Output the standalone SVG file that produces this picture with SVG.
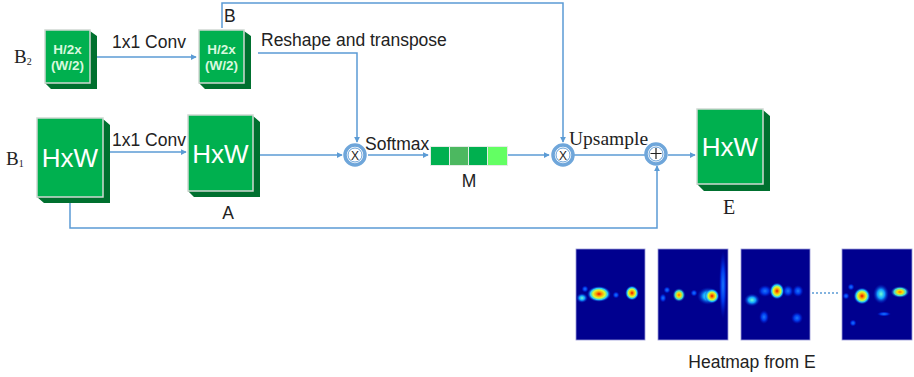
<svg xmlns="http://www.w3.org/2000/svg" width="914" height="377" viewBox="0 0 914 377">
  <style>
    .face { fill: #00b04f; stroke: #cfd8d2; stroke-width: 1.5; }
    .side { fill: #00702f; }
    .edge { fill: none; stroke: #5b9bd5; stroke-width: 1.5; }
    .ring { fill: #ffffff; stroke: #6fa6da; stroke-width: 3.5; }
    .ringIn { fill: none; stroke: #3f86cc; stroke-width: 0.8; }
    .lbl { font-family: "Liberation Sans", Arial, sans-serif; font-size: 17.5px; fill: #222; }
    .ser { font-family: "Liberation Serif", "Times New Roman", serif; fill: #222; }
    .big { font-family: "Liberation Sans", Arial, sans-serif; font-size: 26px; fill: #ffffff; text-anchor: middle; }
    .small { font-family: "Liberation Sans", Arial, sans-serif; font-size: 13.5px; font-weight: bold; fill: #d8f8de; text-anchor: middle; }
    .op { font-family: "Liberation Sans", Arial, sans-serif; font-size: 12px; fill: #222; text-anchor: middle; }
    .hm { fill: #00008f; stroke: #9a9ad6; stroke-width: 0.8; }
  </style>
  <defs>
    <marker id="arr" viewBox="0 0 8 8" refX="7" refY="4" markerWidth="6" markerHeight="6" orient="auto" markerUnits="userSpaceOnUse">
      <path d="M0,0 L8,4 L0,8 z" fill="#5b9bd5"/>
    </marker>
    <radialGradient id="hot">
      <stop offset="0" stop-color="#e01000"/>
      <stop offset="0.25" stop-color="#ff9a00"/>
      <stop offset="0.5" stop-color="#d8ff30"/>
      <stop offset="0.72" stop-color="#20c8ff"/>
      <stop offset="1" stop-color="#0010c0" stop-opacity="0"/>
    </radialGradient>
    <radialGradient id="warm">
      <stop offset="0" stop-color="#ff6a00"/>
      <stop offset="0.3" stop-color="#ffe000"/>
      <stop offset="0.62" stop-color="#40e0d0"/>
      <stop offset="1" stop-color="#0010c0" stop-opacity="0"/>
    </radialGradient>
    <radialGradient id="cool">
      <stop offset="0" stop-color="#70ffd0"/>
      <stop offset="0.45" stop-color="#10a0ff"/>
      <stop offset="1" stop-color="#0010c0" stop-opacity="0"/>
    </radialGradient>
    <radialGradient id="faint">
      <stop offset="0" stop-color="#1a78ff"/>
      <stop offset="0.5" stop-color="#0038e8"/>
      <stop offset="1" stop-color="#0010c0" stop-opacity="0"/>
    </radialGradient>
  </defs>

  <!-- connectors -->
  <g id="connectors">
    <path class="edge" d="M97,57 H196" marker-end="url(#arr)"/>
    <path class="edge" d="M110,152 H186" marker-end="url(#arr)"/>
    <path class="edge" d="M258,53 H357 V142" marker-end="url(#arr)"/>
    <path class="edge" d="M222,28 V3 H563 V142" marker-end="url(#arr)"/>
    <path class="edge" d="M258,155 H342" marker-end="url(#arr)"/>
    <path class="edge" d="M368,155 H428" marker-end="url(#arr)"/>
    <path class="edge" d="M508,155 H549" marker-end="url(#arr)"/>
    <path class="edge" d="M574,155 H645"/>
    <path class="edge" d="M668,155 H695" marker-end="url(#arr)"/>
    <path class="edge" d="M70,203 V228 H657 V166" marker-end="url(#arr)"/>
    <line x1="812" y1="293" x2="840" y2="293" stroke="#5b9bd5" stroke-width="1.5" stroke-dasharray="2,2"/>
  </g>

  <!-- edge labels -->
  <g id="labels">
    <text class="lbl" x="112" y="48">1x1 Conv</text>
    <text class="lbl" x="112" y="146">1x1 Conv</text>
    <text class="lbl" x="261" y="46">Reshape and transpose</text>
    <text class="lbl" x="224" y="22" font-size="16">B</text>
    <text class="lbl" x="365" y="150">Softmax</text>
    <text class="ser" x="569" y="145" font-size="19.5">Upsample</text>
  </g>

  <!-- input labels -->
  <g id="label-B2">
    <text class="ser" x="14" y="63" font-size="19">B<tspan font-size="10" dy="2">2</tspan></text>
  </g>
  <g id="label-B1">
    <text class="ser" x="6" y="165" font-size="19">B<tspan font-size="10" dy="2">1</tspan></text>
  </g>

  <!-- B2 feature map -->
  <g id="node-B2">
    <path class="side" d="M90,31 L97,36 V89 H51 L45,83 H90 Z"/>
    <rect class="face" x="45" y="30" width="45" height="53"/>
    <text class="small" x="67.5" y="54">H/2x</text>
    <text class="small" x="67.5" y="70">(W/2)</text>
  </g>

  <!-- B feature map -->
  <g id="node-B">
    <path class="side" d="M244,31 L251,36 V89 H205 L199,83 H244 Z"/>
    <rect class="face" x="199" y="30" width="45" height="53"/>
    <text class="small" x="221.5" y="54">H/2x</text>
    <text class="small" x="221.5" y="70">(W/2)</text>
  </g>

  <!-- B1 feature map -->
  <g id="node-B1">
    <path class="side" d="M103,119 L110,125 V203 H44 L37,197 H103 Z"/>
    <rect class="face" x="37" y="118" width="66" height="79"/>
    <text class="big" x="70" y="167">HxW</text>
  </g>

  <!-- A feature map -->
  <g id="node-A">
    <path class="side" d="M253,116 L260,122 V197 H194 L188,191 H253 Z"/>
    <rect class="face" x="188" y="115" width="65" height="76"/>
    <text class="big" x="220.5" y="163">HxW</text>
    <text class="lbl" x="228" y="219" text-anchor="middle">A</text>
  </g>

  <!-- matrix multiply 1 -->
  <g id="node-mul1">
    <circle class="ring" cx="355" cy="155" r="10"/>
    <circle class="ringIn" cx="355" cy="155" r="7"/>
    <text class="op" x="355" y="159.5">X</text>
  </g>

  <!-- attention map M -->
  <g id="node-M">
    <rect x="430" y="146" width="78" height="20" fill="#e4ece6"/>
    <rect x="431" y="147" width="18" height="18" fill="#00b04f"/>
    <rect x="450" y="147" width="18" height="18" fill="#4cb860"/>
    <rect x="469" y="147" width="18" height="18" fill="#00b04f"/>
    <rect x="488" y="147" width="19" height="18" fill="#63ff63"/>
    <text class="lbl" x="469" y="187" text-anchor="middle">M</text>
  </g>

  <!-- matrix multiply 2 -->
  <g id="node-mul2">
    <circle class="ring" cx="563" cy="155" r="10"/>
    <circle class="ringIn" cx="563" cy="155" r="7"/>
    <text class="op" x="563" y="159.5">X</text>
  </g>

  <!-- element-wise sum -->
  <g id="node-add">
    <circle class="ring" cx="656" cy="154" r="10"/>
    <circle class="ringIn" cx="656" cy="154" r="7"/>
    <path d="M650.5,153.5 H661.5 M656,148 V159" stroke="#222" stroke-width="1.2"/>
  </g>

  <!-- E feature map -->
  <g id="node-E">
    <path class="side" d="M763,110 L770,116 V191 H704 L697,184 H763 Z"/>
    <rect class="face" x="697" y="109" width="66" height="75"/>
    <text class="big" x="730" y="156">HxW</text>
    <text class="ser" x="729" y="214" font-size="20" text-anchor="middle">E</text>
  </g>

  <!-- heatmaps from E -->
  <g id="heatmaps">
    <g id="heatmap-1">
      <rect class="hm" x="576" y="249" width="69" height="91"/>
      <ellipse cx="582" cy="298" rx="6" ry="5" fill="url(#cool)"/>
      <ellipse cx="585" cy="289" rx="3.5" ry="3.5" fill="url(#faint)"/>
      <ellipse cx="599" cy="294" rx="12" ry="8" fill="url(#hot)"/>
      <ellipse cx="616" cy="295" rx="3.5" ry="3.5" fill="url(#faint)"/>
      <ellipse cx="632" cy="293" rx="7" ry="7.5" fill="url(#hot)"/>
    </g>
    <g id="heatmap-2">
      <rect class="hm" x="658" y="249" width="70" height="91"/>
      <ellipse cx="723" cy="285" rx="4" ry="34" fill="url(#faint)"/>
      <ellipse cx="663" cy="298" rx="3.5" ry="4.5" fill="url(#faint)"/>
      <ellipse cx="667" cy="290" rx="3.5" ry="3.5" fill="url(#faint)"/>
      <ellipse cx="679" cy="295" rx="6.5" ry="7" fill="url(#warm)"/>
      <ellipse cx="694" cy="293" rx="3.5" ry="3.5" fill="url(#faint)"/>
      <ellipse cx="708" cy="296" rx="11" ry="9" fill="url(#cool)"/>
      <ellipse cx="712" cy="296" rx="7.5" ry="7.5" fill="url(#hot)"/>
    </g>
    <g id="heatmap-3">
      <rect class="hm" x="741" y="249" width="69" height="91"/>
      <ellipse cx="752" cy="300" rx="8" ry="6.5" fill="url(#cool)"/>
      <ellipse cx="765" cy="291" rx="7" ry="6" fill="url(#faint)"/>
      <ellipse cx="777" cy="291" rx="7.5" ry="8.5" fill="url(#hot)"/>
      <ellipse cx="788" cy="291" rx="5.5" ry="6" fill="url(#faint)"/>
      <ellipse cx="798" cy="291" rx="5.5" ry="6" fill="url(#faint)"/>
      <ellipse cx="764" cy="317" rx="5" ry="7" fill="url(#faint)"/>
      <ellipse cx="797" cy="318" rx="6" ry="6" fill="url(#faint)"/>
    </g>
    <g id="heatmap-4">
      <rect class="hm" x="842" y="249" width="70" height="91"/>
      <ellipse cx="846" cy="296" rx="3.5" ry="3.5" fill="url(#faint)"/>
      <ellipse cx="851" cy="287" rx="3.5" ry="3.5" fill="url(#faint)"/>
      <ellipse cx="862" cy="296" rx="8.5" ry="8.5" fill="url(#hot)"/>
      <ellipse cx="881" cy="294" rx="8" ry="10" fill="url(#cool)"/>
      <ellipse cx="900" cy="292" rx="9.5" ry="6" fill="url(#warm)"/>
      <ellipse cx="853" cy="323" rx="3.5" ry="3.5" fill="url(#faint)"/>
      <ellipse cx="884" cy="314" rx="7" ry="2.5" fill="url(#faint)"/>
    </g>
    <text class="lbl" x="752" y="368" text-anchor="middle">Heatmap from E</text>
  </g>
</svg>
